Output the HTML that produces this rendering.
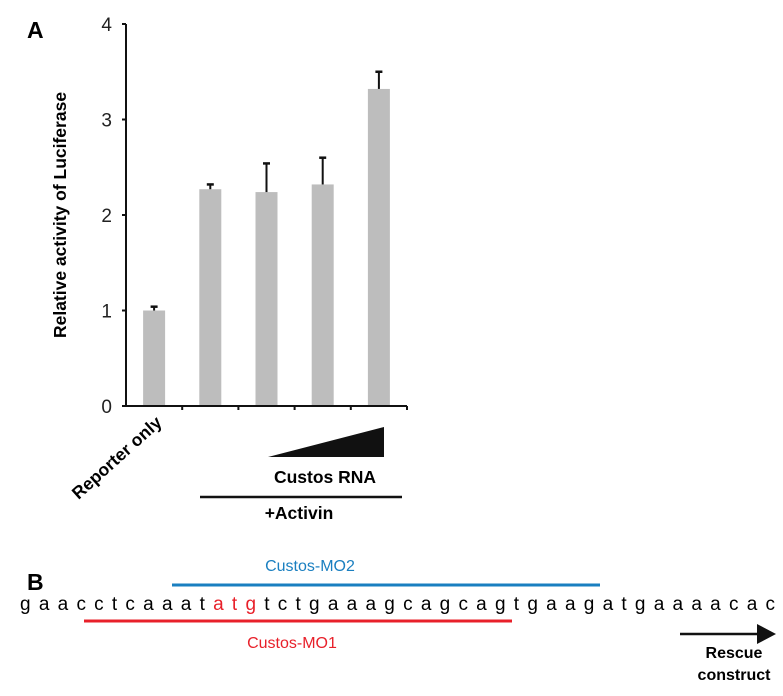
<!DOCTYPE html>
<html><head><meta charset="utf-8"><style>
html,body{margin:0;padding:0;background:#fff;}
svg{display:block;font-family:"Liberation Sans",Arial,sans-serif;}
</style></head><body>
<svg id="fig" width="783" height="696" viewBox="0 0 783 696">
<text x="27" y="38" font-size="23" font-weight="bold">A</text>
<g id="chart"></g>
<text transform="translate(66,215) rotate(-90)" text-anchor="middle" font-size="17.5" font-weight="bold">Relative activity of Luciferase</text>
<text transform="translate(163,424) rotate(-42)" text-anchor="end" font-size="17.5" font-weight="bold">Reporter only</text>
<polygon points="268,457 384,427 384,457" fill="#111"/>
<text x="325" y="483" text-anchor="middle" font-size="17.5" font-weight="bold">Custos RNA</text>
<line x1="200" y1="497" x2="402" y2="497" stroke="#111" stroke-width="2.5"/>
<text x="299" y="519" text-anchor="middle" font-size="17.5" font-weight="bold">+Activin</text>

<text x="27" y="590" font-size="23" font-weight="bold">B</text>
<text x="310" y="571" text-anchor="middle" font-size="16" fill="#1a7fc0">Custos-MO2</text>
<line x1="172" y1="585" x2="600" y2="585" stroke="#1a7fc0" stroke-width="3"/>
<text x="20" y="610" font-size="19" textLength="755" lengthAdjust="spacing">gaacctcaaat<tspan fill="#e8202a">atg</tspan>tctgaaagcagcagtgaagatgaaaacac</text>
<line x1="84" y1="621" x2="512" y2="621" stroke="#e8202a" stroke-width="3"/>
<text x="292" y="648" text-anchor="middle" font-size="16" fill="#e8202a">Custos-MO1</text>
<line x1="680" y1="634" x2="762" y2="634" stroke="#111" stroke-width="2.5"/>
<polygon points="757,624 776,634 757,644" fill="#111"/>
<text x="734" y="658" text-anchor="middle" font-size="16" font-weight="bold">Rescue</text>
<text x="734" y="680" text-anchor="middle" font-size="16" font-weight="bold">construct</text>
</svg>
<script>
const categories=["Reporter only","Activin","Activin+RNA low","Activin+RNA mid","Activin+RNA high"];
const values=[1.0,2.27,2.24,2.32,3.32];
const errors=[0.04,0.05,0.30,0.28,0.18];
const yTicks=[0,1,2,3,4];
const NS="http://www.w3.org/2000/svg";
const g=document.getElementById('chart');
const x0=126,x1=407,yBase=406,yTop=24,yMax=4;
const bw=(x1-x0)/categories.length;
const y=v=>yBase-(v/yMax)*(yBase-yTop);
const xc=i=>x0+bw*(i+0.5);
function mk(t,a){const e=document.createElementNS(NS,t);for(const k in a)e.setAttribute(k,a[k]);g.appendChild(e);return e;}
values.forEach((v,i)=>{
 const r=mk('rect',{x:xc(i)-11,y:y(v),width:22,height:yBase-y(v),fill:'#bdbdbd'});
 
 
 const top=y(v+errors[i]);
 const l=mk('line',{x1:xc(i),y1:y(v),x2:xc(i),y2:top,stroke:'#111','stroke-width':2});
 
 
 const c=mk('line',{x1:xc(i)-3.5,y1:top,x2:xc(i)+3.5,y2:top,stroke:'#111','stroke-width':2.5});
 
 
});
const ya=mk('line',{x1:x0,y1:yTop,x2:x0,y2:yBase,stroke:'#111','stroke-width':2});


const xa=mk('line',{x1:x0-4,y1:yBase,x2:x1,y2:yBase,stroke:'#111','stroke-width':2});


yTicks.forEach(t=>{
 const tk=mk('line',{x1:x0-4,y1:y(t),x2:x0,y2:y(t),stroke:'#111','stroke-width':2});
 
 
 const tl=mk('text',{x:x0-14,y:y(t)+7,'text-anchor':'end','font-size':19,fill:'#222'});
 tl.textContent=t;
 
 
});
for(let i=1;i<=categories.length;i++){
 const tk=mk('line',{x1:x0+bw*i,y1:yBase,x2:x0+bw*i,y2:yBase+4,stroke:'#111','stroke-width':2});
 
 
}
</script>
</body></html>
